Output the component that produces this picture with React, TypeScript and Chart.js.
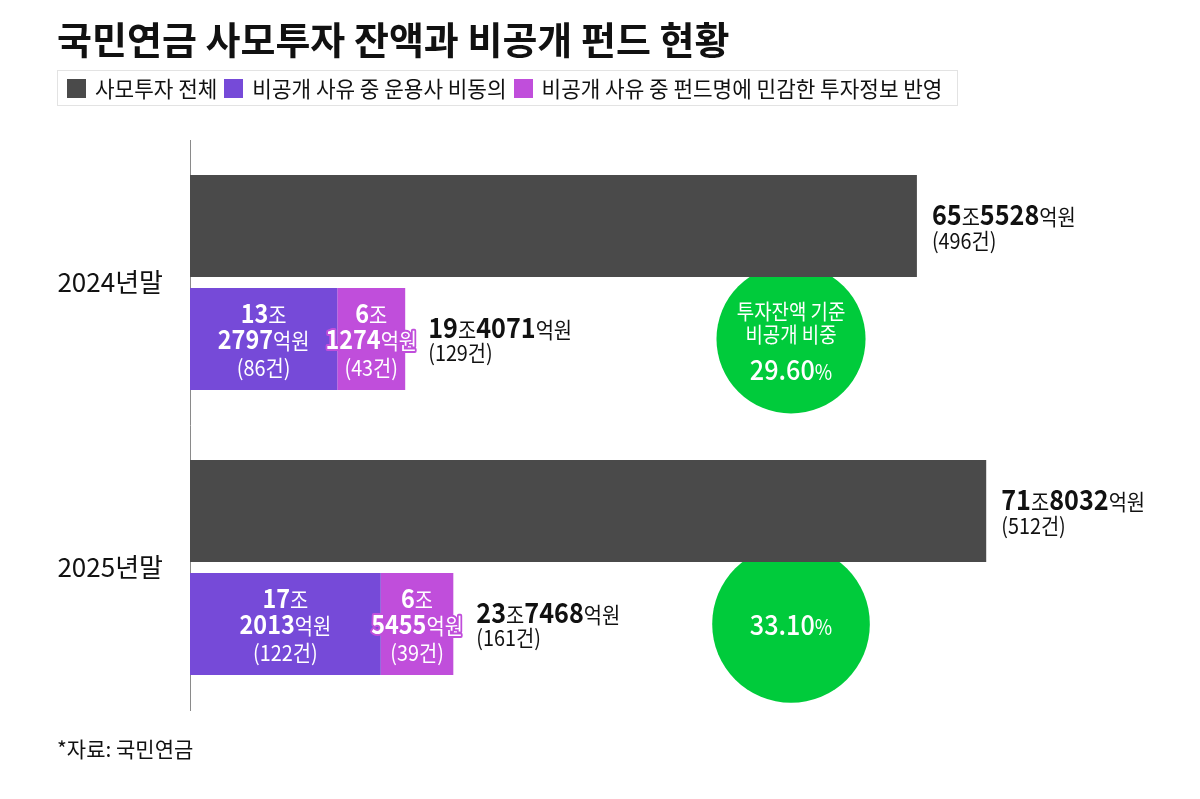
import React, { useEffect, useRef } from "react";
import { Chart, registerables } from "chart.js";

Chart.register(...registerables);

// ---------- data ----------
const categories = ["2024년말", "2025년말"];
const seriesNames = [
  "사모투자 전체",
  "비공개 사유 중 운용사 비동의",
  "비공개 사유 중 펀드명에 민감한 투자정보 반영",
];
// 단위: 조원
const totalValues = [65.5528, 71.8032];
const totalCounts = [496, 512];
const refuseValues = [13.2797, 17.2013];
const refuseCounts = [86, 122];
const sensitiveValues = [6.1274, 6.5455];
const sensitiveCounts = [43, 39];
const privateCounts = [129, 161];
const privateShares = [29.6, 33.1];
const bubbleCaption = ["투자잔액 기준", "비공개 비중"];

const titleText = "국민연금 사모투자 잔액과 비공개 펀드 현황";
const sourceText = "*자료: 국민연금";

// ---------- style ----------
const FONT = '"Noto Sans CJK KR", "Noto Sans", sans-serif';
const COLORS = ["#4a4a4a", "#764ad8", "#c04edb"];
const GREEN = "#00cb3b";
const SX = 0.9;

type Seg = { t: string; size: number; w?: number };

function segsWidth(ctx: CanvasRenderingContext2D, segs: Seg[]) {
  let w = 0;
  for (const s of segs) {
    ctx.font = `${s.w || 400} ${s.size}px ${FONT}`;
    w += ctx.measureText(s.t).width;
  }
  return w;
}

function drawRich(
  ctx: CanvasRenderingContext2D,
  segs: Seg[],
  x: number,
  y: number,
  align: "left" | "center",
  fill: string,
  stroke?: string
) {
  const w = segsWidth(ctx, segs) * SX;
  const start = align === "center" ? x - w / 2 : x;
  ctx.save();
  ctx.translate(start, y);
  ctx.scale(SX, 1);
  ctx.textBaseline = "alphabetic";
  ctx.textAlign = "left";
  let cx = 0;
  for (const s of segs) {
    ctx.font = `${s.w || 400} ${s.size}px ${FONT}`;
    if (stroke) {
      ctx.lineJoin = "round";
      ctx.lineWidth = 4;
      ctx.strokeStyle = stroke;
      ctx.strokeText(s.t, cx, 0);
    }
    ctx.fillStyle = fill;
    ctx.fillText(s.t, cx, 0);
    cx += ctx.measureText(s.t).width;
  }
  ctx.restore();
}

function joEok(v: number) {
  const jo = Math.floor(v + 1e-9);
  const eok = Math.round((v - jo) * 10000);
  return { jo, eok };
}

function amountSegs(v: number, big: number, small: number): Seg[] {
  const { jo, eok } = joEok(v);
  return [
    { t: String(jo), size: big, w: 700 },
    { t: "조", size: small },
    { t: String(eok), size: big, w: 700 },
    { t: "억원", size: small },
  ];
}

const labelPlugin = {
  id: "labelPlugin",
  beforeDatasetsDraw(chart: any, _a: any, opts: any) {
    const ctx: CanvasRenderingContext2D = chart.ctx;
    const xs = chart.scales.x;
    const meta = chart.getDatasetMeta(1);
    const k = opts.radiusK;
    meta.data.forEach((bar: any, i: number) => {
      const { y } = bar.getProps(["y"], true);
      const cx = xs.getPixelForValue(opts.anchorX);
      const r = k * Math.sqrt(privateShares[i]);
      ctx.save();
      ctx.beginPath();
      ctx.arc(cx, y, r, 0, Math.PI * 2);
      ctx.fillStyle = GREEN;
      ctx.fill();
      const pct: Seg[] = [
        { t: privateShares[i].toFixed(2), size: 28, w: 500 },
        { t: "%", size: 21 },
      ];
      if (i === 0) {
        drawRich(ctx, [{ t: bubbleCaption[0], size: 21 }], cx, y - 20, "center", "#fff");
        drawRich(ctx, [{ t: bubbleCaption[1], size: 21 }], cx, y + 3, "center", "#fff");
        drawRich(ctx, pct, cx, y + 41, "center", "#fff");
      } else {
        drawRich(ctx, pct, cx, y + 11, "center", "#fff");
      }
      ctx.restore();
    });
  },
  afterDatasetsDraw(chart: any) {
    const ctx: CanvasRenderingContext2D = chart.ctx;
    const m0 = chart.getDatasetMeta(0);
    const m1 = chart.getDatasetMeta(1);
    const m2 = chart.getDatasetMeta(2);
    categories.forEach((_c, i) => {
      // total bar
      const b0 = m0.data[i].getProps(["x", "y", "base"], true);
      drawRich(ctx, amountSegs(totalValues[i], 28, 22), b0.x + 15, b0.y - 1, "left", "#111");
      drawRich(ctx, [{ t: `(${totalCounts[i]}건)`, size: 22 }], b0.x + 15, b0.y + 23, "left", "#111");

      // refuse bar
      const b1 = m1.data[i].getProps(["x", "y", "base"], true);
      const c1 = (b1.x + b1.base) / 2;
      const r1 = joEok(refuseValues[i]);
      drawRich(ctx, [{ t: String(r1.jo), size: 26, w: 700 }, { t: "조", size: 22 }], c1, b1.y - 16, "center", "#fff");
      drawRich(ctx, [{ t: String(r1.eok), size: 26, w: 700 }, { t: "억원", size: 22 }], c1, b1.y + 10, "center", "#fff");
      drawRich(ctx, [{ t: `(${refuseCounts[i]}건)`, size: 22 }], c1, b1.y + 37, "center", "#fff");

      // sensitive bar
      const b2 = m2.data[i].getProps(["x", "y", "base"], true);
      const c2 = (b2.x + b2.base) / 2;
      const r2 = joEok(sensitiveValues[i]);
      drawRich(ctx, [{ t: String(r2.jo), size: 26, w: 700 }, { t: "조", size: 22 }], c2, b2.y - 16, "center", "#fff", COLORS[2]);
      drawRich(ctx, [{ t: String(r2.eok), size: 26, w: 700 }, { t: "억원", size: 22 }], c2, b2.y + 10, "center", "#fff", COLORS[2]);
      drawRich(ctx, [{ t: `(${sensitiveCounts[i]}건)`, size: 22 }], c2, b2.y + 37, "center", "#fff");

      // private sum
      const sum = refuseValues[i] + sensitiveValues[i];
      drawRich(ctx, amountSegs(sum, 28, 22), b2.x + 23, b2.y - 1, "left", "#111");
      drawRich(ctx, [{ t: `(${privateCounts[i]}건)`, size: 22 }], b2.x + 23, b2.y + 22, "left", "#111");
    });
  },
};

function ChartCanvas() {
  const ref = useRef<HTMLCanvasElement | null>(null);
  useEffect(() => {
    if (!ref.current) return;
    const common = { barPercentage: 0.903, categoryPercentage: 0.793, borderWidth: 0 };
    const chart = new Chart(ref.current, {
      type: "bar",
      data: {
        labels: categories,
        datasets: [
          { label: seriesNames[0], data: totalValues, backgroundColor: COLORS[0], stack: "total", ...common },
          { label: seriesNames[1], data: refuseValues, backgroundColor: COLORS[1], stack: "private", ...common },
          { label: seriesNames[2], data: sensitiveValues, backgroundColor: COLORS[2], stack: "private", ...common },
        ],
      },
      options: {
        indexAxis: "y",
        animation: false,
        responsive: false,
        devicePixelRatio: 1,
        layout: { padding: { left: 0, top: 140, right: 12, bottom: 89 } },
        plugins: {
          legend: { display: false },
          title: { display: false },
          tooltip: { enabled: false },
          labelPlugin: { anchorX: 54.2, radiusK: 13.7 },
        } as any,
        scales: {
          x: { stacked: true, min: 0, max: 90, display: false },
          y: {
            stacked: true,
            afterFit: (s: any) => {
              s.width = 190;
            },
            grid: { display: false, drawTicks: false },
            border: { display: true, color: "#8a8a8a", width: 1 },
            ticks: {
              padding: 27,
              color: "#111",
              font: { family: FONT, size: 26 },
            },
          },
        },
      },
      plugins: [labelPlugin as any],
    });
    return () => chart.destroy();
  }, []);
  return (
    <canvas
      ref={ref}
      width={1200}
      height={799}
      style={{ position: "absolute", left: 0, top: 0, width: 1200, height: 799 }}
    />
  );
}

export default function App() {
  return (
    <div
      style={{
        position: "fixed",
        left: 0,
        top: 0,
        width: 1200,
        height: 799,
        background: "#fff",
        fontFamily: FONT,
        color: "#111",
        overflow: "hidden",
      }}
    >
      <ChartCanvas />
      <div
        style={{
          position: "absolute",
          left: 57,
          top: 16,
          fontSize: 38,
          lineHeight: "44px",
          fontWeight: 700,
          whiteSpace: "nowrap",
          letterSpacing: 0,
        }}
      >
        {titleText}
      </div>
      <div
        style={{
          position: "absolute",
          left: 57,
          top: 70,
          width: 901,
          height: 36,
          boxSizing: "border-box",
          border: "1px solid #e3e3e3",
          display: "flex",
          alignItems: "center",
          paddingLeft: 9,
          whiteSpace: "nowrap",
        }}
      >
        {seriesNames.map((n, i) => (
          <div key={n} style={{ display: "flex", alignItems: "center", marginRight: 7 }}>
            <span
              style={{ display: "inline-block", width: 19, height: 19, background: COLORS[i], marginRight: 9 }}
            />
            <span style={{ fontSize: 21.3, lineHeight: "26px" }}>{n}</span>
          </div>
        ))}
      </div>
      <div
        style={{
          position: "absolute",
          left: 57,
          top: 733,
          fontSize: 21,
          lineHeight: "30px",
          whiteSpace: "nowrap",
        }}
      >
        {sourceText}
      </div>
    </div>
  );
}
